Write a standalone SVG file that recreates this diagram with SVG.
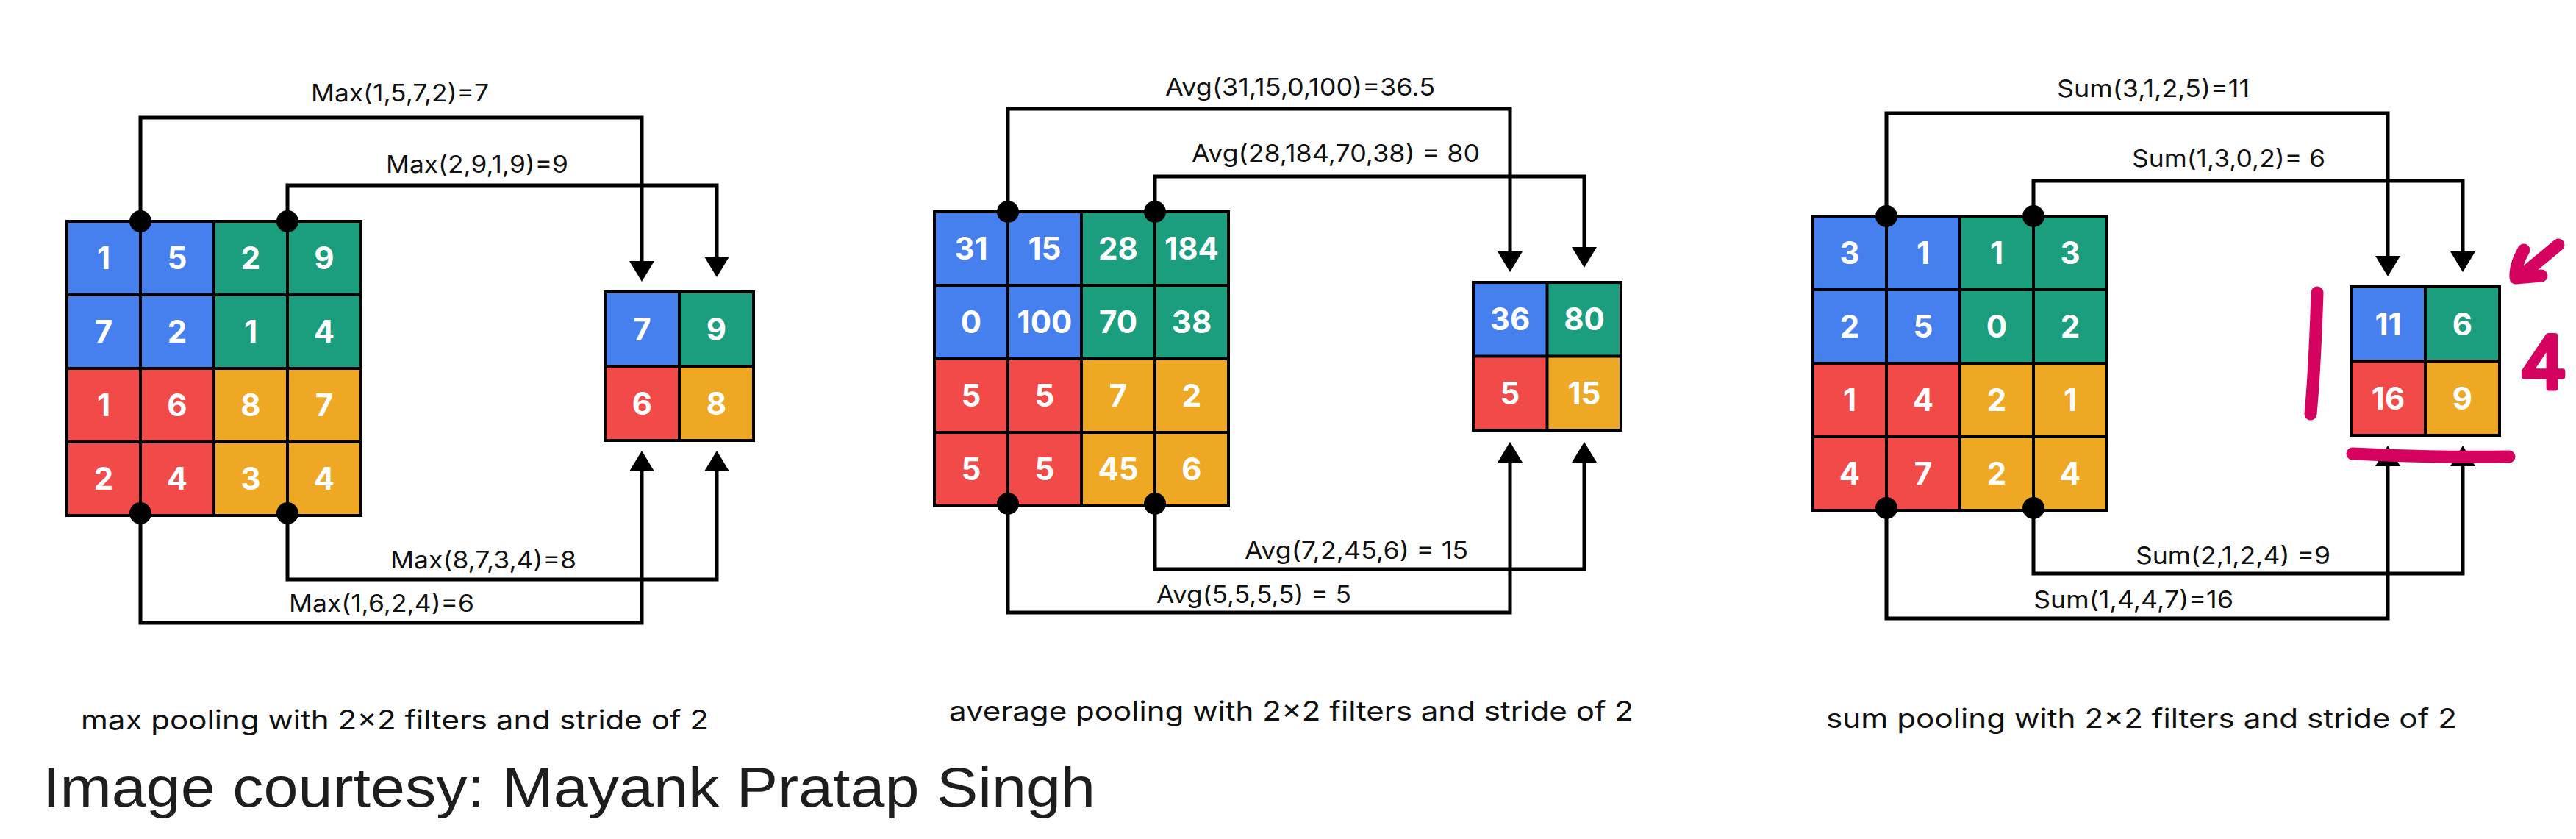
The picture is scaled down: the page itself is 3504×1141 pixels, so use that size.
<svg xmlns="http://www.w3.org/2000/svg" width="3504" height="1141" viewBox="0 0 3504 1141">
<defs>
<style>
.num{font-family:Inter,'Liberation Sans',sans-serif;font-weight:700;font-size:42px;fill:#fff;text-anchor:middle}
.lbl{font-family:Inter,'Liberation Sans',sans-serif;font-size:32px;fill:#111}
.cap{font-family:Inter,'Liberation Sans',sans-serif;font-size:37px;fill:#111}
.hand{font-family:'Liberation Sans',sans-serif;font-size:76px;fill:#1e1e1e}
.wire{fill:none;stroke:#000;stroke-width:5;marker-end:url(#arr)}
.gl{fill:none;stroke:#000;stroke-width:4}
.b{fill:#4680EE}.g{fill:#1A9E7E}.r{fill:#F24949}.o{fill:#EEA823}
.pink{fill:none;stroke:#D5035F;stroke-width:17;stroke-linecap:round;stroke-linejoin:round}
</style>
<marker id="arr" markerUnits="userSpaceOnUse" markerWidth="30" markerHeight="34" viewBox="0 0 30 34" refX="1" refY="17" orient="auto">
<path d="M0,0 L28,17 L0,34 Z" fill="#000"/>
</marker>
</defs>
<rect width="3504" height="1141" fill="#fff"/>

<!-- connectors -->
<g id="connectors">
<path class="wire" d="M191,301 V160 H873 V356"/>
<path class="wire" d="M391,301 V252 H975 V350"/>
<path class="wire" d="M391,698 V788 H975 V640"/>
<path class="wire" d="M191,698 V847 H873 V640"/>
<path class="wire" d="M1371,288 V148 H2054 V343"/>
<path class="wire" d="M1571,288 V240 H2155 V337"/>
<path class="wire" d="M1571,685 V774 H2155 V628"/>
<path class="wire" d="M1371,685 V833 H2054 V628"/>
<path class="wire" d="M2566,294 V154 H3248 V349"/>
<path class="wire" d="M2766,294 V246 H3350 V343"/>
<path class="wire" d="M2766,691 V780 H3350 V633"/>
<path class="wire" d="M2566,691 V841 H3248 V633"/>
<text class="lbl" x="423" y="138" textLength="242" lengthAdjust="spacingAndGlyphs">Max(1,5,7,2)=7</text>
<text class="lbl" x="525" y="235" textLength="248" lengthAdjust="spacingAndGlyphs">Max(2,9,1,9)=9</text>
<text class="lbl" x="531" y="773" textLength="253" lengthAdjust="spacingAndGlyphs">Max(8,7,3,4)=8</text>
<text class="lbl" x="393" y="832" textLength="252" lengthAdjust="spacingAndGlyphs">Max(1,6,2,4)=6</text>
<text class="lbl" x="1585" y="130" textLength="367" lengthAdjust="spacingAndGlyphs">Avg(31,15,0,100)=36.5</text>
<text class="lbl" x="1621" y="220" textLength="392" lengthAdjust="spacingAndGlyphs">Avg(28,184,70,38) = 80</text>
<text class="lbl" x="1693" y="760" textLength="304" lengthAdjust="spacingAndGlyphs">Avg(7,2,45,6) = 15</text>
<text class="lbl" x="1573" y="820" textLength="265" lengthAdjust="spacingAndGlyphs">Avg(5,5,5,5) = 5</text>
<text class="lbl" x="2798" y="132" textLength="262" lengthAdjust="spacingAndGlyphs">Sum(3,1,2,5)=11</text>
<text class="lbl" x="2900" y="227" textLength="263" lengthAdjust="spacingAndGlyphs">Sum(1,3,0,2)= 6</text>
<text class="lbl" x="2905" y="767" textLength="265" lengthAdjust="spacingAndGlyphs">Sum(2,1,2,4) =9</text>
<text class="lbl" x="2766" y="827" textLength="272" lengthAdjust="spacingAndGlyphs">Sum(1,4,4,7)=16</text>
</g>

<!-- MAX input -->
<g id="max-input">
<rect class="b" x="91" y="301" width="200" height="200"/>
<rect class="g" x="291" y="301" width="200" height="200"/>
<rect class="r" x="91" y="501" width="200" height="200"/>
<rect class="o" x="291" y="501" width="200" height="200"/>
<path class="gl" d="M191,301V701M291,301V701M391,301V701M91,401H491M91,501H491M91,601H491"/>
<rect class="gl" x="91" y="301" width="400" height="400"/>
<text class="num" x="141" y="366">1</text><text class="num" x="241" y="366">5</text><text class="num" x="341" y="366">2</text><text class="num" x="441" y="366">9</text>
<text class="num" x="141" y="466">7</text><text class="num" x="241" y="466">2</text><text class="num" x="341" y="466">1</text><text class="num" x="441" y="466">4</text>
<text class="num" x="141" y="566">1</text><text class="num" x="241" y="566">6</text><text class="num" x="341" y="566">8</text><text class="num" x="441" y="566">7</text>
<text class="num" x="141" y="666">2</text><text class="num" x="241" y="666">4</text><text class="num" x="341" y="666">3</text><text class="num" x="441" y="666">4</text>
<circle cx="191" cy="301" r="15"/><circle cx="391" cy="301" r="15"/>
<circle cx="191" cy="698" r="15"/><circle cx="391" cy="698" r="15"/>
</g>

<!-- MAX output -->
<g id="max-output">
<rect class="b" x="823" y="397" width="101" height="101"/>
<rect class="g" x="924" y="397" width="101" height="101"/>
<rect class="r" x="823" y="498" width="101" height="101"/>
<rect class="o" x="924" y="498" width="101" height="101"/>
<path class="gl" d="M924,397V599M823,498H1025"/>
<rect class="gl" x="823" y="397" width="202" height="202"/>
<text class="num" x="873.5" y="463">7</text><text class="num" x="974.5" y="463">9</text>
<text class="num" x="873.5" y="564">6</text><text class="num" x="974.5" y="564">8</text>
</g>

<!-- AVG input -->
<g id="avg-input">
<rect class="b" x="1271" y="288" width="200" height="200"/>
<rect class="g" x="1471" y="288" width="200" height="200"/>
<rect class="r" x="1271" y="488" width="200" height="200"/>
<rect class="o" x="1471" y="488" width="200" height="200"/>
<path class="gl" d="M1371,288V688M1471,288V688M1571,288V688M1271,388H1671M1271,488H1671M1271,588H1671"/>
<rect class="gl" x="1271" y="288" width="400" height="400"/>
<text class="num" x="1321" y="353">31</text><text class="num" x="1421" y="353">15</text><text class="num" x="1521" y="353">28</text><text class="num" x="1621" y="353">184</text>
<text class="num" x="1321" y="453">0</text><text class="num" x="1421" y="453">100</text><text class="num" x="1521" y="453">70</text><text class="num" x="1621" y="453">38</text>
<text class="num" x="1321" y="553">5</text><text class="num" x="1421" y="553">5</text><text class="num" x="1521" y="553">7</text><text class="num" x="1621" y="553">2</text>
<text class="num" x="1321" y="653">5</text><text class="num" x="1421" y="653">5</text><text class="num" x="1521" y="653">45</text><text class="num" x="1621" y="653">6</text>
<circle cx="1371" cy="288" r="15"/><circle cx="1571" cy="288" r="15"/>
<circle cx="1371" cy="685" r="15"/><circle cx="1571" cy="685" r="15"/>
</g>

<!-- AVG output -->
<g id="avg-output">
<rect class="b" x="2004" y="384" width="100.5" height="100.5"/>
<rect class="g" x="2104.5" y="384" width="100.5" height="100.5"/>
<rect class="r" x="2004" y="484.5" width="100.5" height="100.5"/>
<rect class="o" x="2104.5" y="484.5" width="100.5" height="100.5"/>
<path class="gl" d="M2104.5,384V585M2004,484.5H2205"/>
<rect class="gl" x="2004" y="384" width="201" height="201"/>
<text class="num" x="2054" y="449">36</text><text class="num" x="2155" y="449">80</text>
<text class="num" x="2054" y="550">5</text><text class="num" x="2155" y="550">15</text>
</g>

<!-- SUM input -->
<g id="sum-input">
<rect class="b" x="2466" y="294" width="200" height="200"/>
<rect class="g" x="2666" y="294" width="200" height="200"/>
<rect class="r" x="2466" y="494" width="200" height="200"/>
<rect class="o" x="2666" y="494" width="200" height="200"/>
<path class="gl" d="M2566,294V694M2666,294V694M2766,294V694M2466,394H2866M2466,494H2866M2466,594H2866"/>
<rect class="gl" x="2466" y="294" width="400" height="400"/>
<text class="num" x="2516" y="359">3</text><text class="num" x="2616" y="359">1</text><text class="num" x="2716" y="359">1</text><text class="num" x="2816" y="359">3</text>
<text class="num" x="2516" y="459">2</text><text class="num" x="2616" y="459">5</text><text class="num" x="2716" y="459">0</text><text class="num" x="2816" y="459">2</text>
<text class="num" x="2516" y="559">1</text><text class="num" x="2616" y="559">4</text><text class="num" x="2716" y="559">2</text><text class="num" x="2816" y="559">1</text>
<text class="num" x="2516" y="659">4</text><text class="num" x="2616" y="659">7</text><text class="num" x="2716" y="659">2</text><text class="num" x="2816" y="659">4</text>
<circle cx="2566" cy="294" r="15"/><circle cx="2766" cy="294" r="15"/>
<circle cx="2566" cy="691" r="15"/><circle cx="2766" cy="691" r="15"/>
</g>

<!-- SUM output -->
<g id="sum-output">
<rect class="b" x="3198" y="390" width="101" height="101"/>
<rect class="g" x="3299" y="390" width="101" height="101"/>
<rect class="r" x="3198" y="491" width="101" height="101"/>
<rect class="o" x="3299" y="491" width="101" height="101"/>
<path class="gl" d="M3299,390V592M3198,491H3400"/>
<rect class="gl" x="3198" y="390" width="202" height="202"/>
<text class="num" x="3248.5" y="456">11</text><text class="num" x="3349.5" y="456">6</text>
<text class="num" x="3248.5" y="557">16</text><text class="num" x="3349.5" y="557">9</text>
</g>

<!-- captions -->
<g id="captions">
<text class="cap" x="110" y="992" textLength="854" lengthAdjust="spacingAndGlyphs">max pooling with 2×2 filters and stride of 2</text>
<text class="cap" x="1291" y="980" textLength="931" lengthAdjust="spacingAndGlyphs">average pooling with 2×2 filters and stride of 2</text>
<text class="cap" x="2484" y="990" textLength="858" lengthAdjust="spacingAndGlyphs">sum pooling with 2×2 filters and stride of 2</text>
<text class="hand" x="58" y="1097" textLength="1432" lengthAdjust="spacingAndGlyphs">Image courtesy: Mayank Pratap Singh</text>
</g>

<!-- pink annotations -->
<g id="annotations">
<path class="pink" d="M3152,398 C3150,460 3147,520 3143,563"/>
<path class="pink" d="M3200,617 C3280,621 3350,622 3413,621"/>
<path class="pink" d="M3480,333 L3427,377"/>
<path class="pink" d="M3433,340 C3426,352 3421,364 3422,378 L3457,375"/>
<text x="3460" y="528" font-family="'Liberation Sans',sans-serif" font-size="104" fill="#D5035F" stroke="#D5035F" stroke-width="7" stroke-linejoin="round" text-anchor="middle">4</text>
</g>
</svg>
